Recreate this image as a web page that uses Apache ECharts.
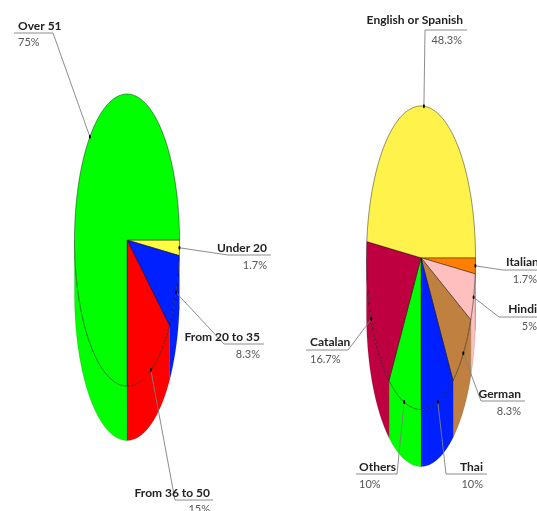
<!DOCTYPE html>
<html>
<head>
<meta charset="utf-8">
<style>
  html, body { margin: 0; padding: 0; background: #fff; }
  #chart { width: 537px; height: 511px; overflow: hidden; }
</style>
<script src="https://cdn.jsdelivr.net/npm/echarts@6/dist/echarts.min.js"></script>
</head>
<body>
<div id="chart"></div>
<script>
  // left pie: age groups
  const ageLabels = ['Under 20', 'From 20 to 35', 'From 36 to 50', 'Over 51'];
  const ageValues = [1.7, 8.3, 15, 75];
  const ageColors = ['#ffff40', '#0020ff', '#ff0000', '#00ff00'];

  // right pie: languages
  const langLabels = ['Italian', 'Hindi', 'German', 'Thai', 'Others', 'Catalan', 'English or Spanish'];
  const langValues = [1.7, 5, 8.3, 10, 10, 16.7, 48.3];
  const langColors = ['#ff8000', '#ffbfbf', '#bf8040', '#0020ff', '#00ff00', '#bf0040', '#fff24a'];

  // where each callout goes: elbow of the leader, end of the underline, text anchors
  const ageCallouts = [
    { elbow: [228, 255], end: 271, nameX: 267, nameAlign: 'right', nameY: 248, pctX: 267, pctAlign: 'right', pctY: 265 },
    { elbow: [224, 344], end: 264, nameX: 260, nameAlign: 'right', nameY: 337.5, pctX: 260, pctAlign: 'right', pctY: 354 },
    { elbow: [175, 500], end: 213, nameX: 210, nameAlign: 'right', nameY: 493.5, pctX: 210, pctAlign: 'right', pctY: 509.5 },
    { elbow: [53, 33], end: 14, nameX: 18, nameAlign: 'left', nameY: 26, pctX: 18, pctAlign: 'left', pctY: 42.5 }
  ];
  const langCallouts = [
    { elbow: [503, 270], end: 540, nameX: 506, nameAlign: 'left', nameY: 262.5, pctX: 537, pctAlign: 'right', pctY: 279.5 },
    { elbow: [499, 317], end: 540, nameX: 537, nameAlign: 'right', nameY: 309.5, pctX: 537, pctAlign: 'right', pctY: 326.5 },
    { elbow: [481, 401], end: 525, nameX: 521, nameAlign: 'right', nameY: 394.5, pctX: 521, pctAlign: 'right', pctY: 411 },
    { elbow: [446, 474], end: 487, nameX: 483, nameAlign: 'right', nameY: 467.5, pctX: 483, pctAlign: 'right', pctY: 484 },
    { elbow: [397, 474], end: 356, nameX: 359, nameAlign: 'left', nameY: 467.5, pctX: 359, pctAlign: 'left', pctY: 484 },
    { elbow: [348, 350], end: 306, nameX: 310, nameAlign: 'left', nameY: 342.5, pctX: 310, pctAlign: 'left', pctY: 359.5 },
    { elbow: [425, 30], end: 467, nameX: 463, nameAlign: 'right', nameY: 20.5, pctX: 462, pctAlign: 'right', pctY: 40.5 }
  ];

  const NAME_FONT = '700 12px Lato';
  const PCT_FONT = '11px Lato';

  // point on the unit circle, clockwise from 3 o'clock, value is in percent
  function rim(api, percent) {
    const a = percent / 100 * Math.PI * 2;
    return api.coord([Math.cos(a), -Math.sin(a)]);
  }

  function pieSeries(gridIndex, labels, values, colors, callouts, depth) {
    const starts = [];
    values.reduce(function (sum, v, i) { starts[i] = sum; return sum + v; }, 0);

    return {
      type: 'custom',
      xAxisIndex: gridIndex,
      yAxisIndex: gridIndex,
      clip: false,
      silent: true,
      animation: false,
      data: values.map(function (v, i) { return [i, v]; }),
      renderItem: function (params, api) {
        const i = params.dataIndex;
        const from = starts[i];
        const to = from + values[i];
        const centre = api.coord([0, 0]);
        const children = [];

        // arc sampled along the rim
        const steps = Math.max(2, Math.ceil((to - from) * 4));
        const arc = [];
        for (let s = 0; s <= steps; s++) {
          arc.push(from + (to - from) * s / steps);
        }

        // side wall, only the front half (0 to 50 percent) shows
        const front = arc.filter(function (p) { return p <= 50; });
        if (from < 50 && to > 50) front.push(50);
        if (front.length > 1) {
          const top = front.map(function (p) { return rim(api, p); });
          const bottom = top.slice().reverse().map(function (p) { return [p[0], p[1] + depth]; });
          children.push({
            type: 'polygon',
            shape: { points: top.concat(bottom) },
            style: { fill: colors[i], stroke: 'rgba(0,0,0,0.25)', lineWidth: 0.5 }
          });
        }

        // top face
        children.push({
          type: 'polygon',
          shape: { points: [centre].concat(arc.map(function (p) { return rim(api, p); })) },
          style: { fill: colors[i], stroke: 'rgba(0,0,0,0.6)', lineWidth: 0.7 }
        });

        // callout
        const c = callouts[i];
        const pin = rim(api, from + values[i] / 2);
        children.push({
          type: 'polyline',
          z2: 5,
          shape: { points: [pin, c.elbow, [c.end, c.elbow[1]]] },
          style: { fill: null, stroke: '#808080', lineWidth: 0.9 }
        });
        children.push({
          type: 'ellipse',
          z2: 6,
          shape: { cx: pin[0], cy: pin[1], rx: 1, ry: 2 },
          style: { fill: '#000' }
        });
        children.push({
          type: 'text',
          z2: 7,
          style: {
            x: c.nameX, y: c.nameY, text: labels[i], font: NAME_FONT,
            fill: '#222', align: c.nameAlign, verticalAlign: 'middle'
          }
        });
        children.push({
          type: 'text',
          z2: 7,
          style: {
            x: c.pctX, y: c.pctY, text: values[i] + '%', font: PCT_FONT,
            fill: '#555', align: c.pctAlign, verticalAlign: 'middle'
          }
        });

        return { type: 'group', children: children };
      }
    };
  }

  const hiddenAxis = { type: 'value', min: -1, max: 1, show: false };

  const myChart = echarts.init(document.getElementById('chart'), null, { renderer: 'canvas' });
  myChart.setOption({
    backgroundColor: '#fff',
    animation: false,
    // each grid is the box round the top ellipse of one pie
    grid: [
      { left: 74.5, top: 94, width: 105, height: 292 },
      { left: 366.5, top: 106, width: 109, height: 303.5 }
    ],
    xAxis: [
      Object.assign({ gridIndex: 0 }, hiddenAxis),
      Object.assign({ gridIndex: 1 }, hiddenAxis)
    ],
    yAxis: [
      Object.assign({ gridIndex: 0 }, hiddenAxis),
      Object.assign({ gridIndex: 1 }, hiddenAxis)
    ],
    series: [
      pieSeries(0, ageLabels, ageValues, ageColors, ageCallouts, 54.5),
      pieSeries(1, langLabels, langValues, langColors, langCallouts, 57)
    ]
  });
</script>
</body>
</html>
